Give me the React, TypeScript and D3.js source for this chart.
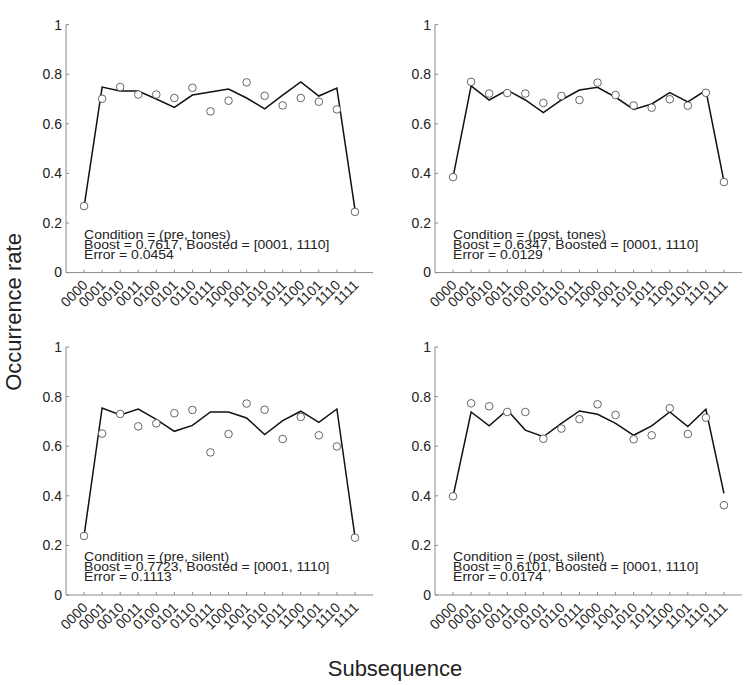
import React from "react";
import * as d3 from "d3";

const categories = ["0000","0001","0010","0011","0100","0101","0110","0111","1000","1001","1010","1011","1100","1101","1110","1111"];
const yTicks = [0, 0.2, 0.4, 0.6, 0.8, 1];
const yTickLabels = ["0", "0.2", "0.4", "0.6", "0.8", "1"];

const preTonesObs = [0.268,0.701,0.748,0.718,0.718,0.704,0.745,0.650,0.693,0.767,0.713,0.674,0.704,0.689,0.658,0.245];
const preTonesFit = [0.265,0.748,0.732,0.732,0.700,0.666,0.716,0.728,0.740,0.704,0.660,0.716,0.769,0.712,0.744,0.255];
const postTonesObs = [0.385,0.769,0.722,0.724,0.722,0.684,0.712,0.696,0.766,0.716,0.674,0.665,0.699,0.673,0.725,0.365];
const postTonesFit = [0.385,0.753,0.696,0.736,0.696,0.645,0.696,0.736,0.747,0.707,0.658,0.680,0.726,0.688,0.735,0.368];
const preSilentObs = [0.238,0.651,0.730,0.680,0.692,0.733,0.746,0.575,0.649,0.772,0.747,0.629,0.718,0.644,0.599,0.231];
const preSilentFit = [0.238,0.754,0.726,0.750,0.708,0.660,0.684,0.738,0.738,0.714,0.647,0.703,0.741,0.696,0.750,0.235];
const postSilentObs = [0.398,0.773,0.761,0.738,0.738,0.630,0.671,0.709,0.769,0.726,0.628,0.644,0.753,0.649,0.715,0.362];
const postSilentFit = [0.398,0.738,0.682,0.746,0.665,0.638,0.692,0.742,0.729,0.692,0.644,0.682,0.738,0.679,0.749,0.410];

const conditions = ["(pre, tones)", "(post, tones)", "(pre, silent)", "(post, silent)"];
const boosts = ["0.7617", "0.6347", "0.7723", "0.6101"];
const errors = ["0.0454", "0.0129", "0.1113", "0.0174"];
const boosted = "[0001, 1110]";

const panels = [
  { obs: preTonesObs, fit: preTonesFit, left: 66, top: 24.6 },
  { obs: postTonesObs, fit: postTonesFit, left: 435, top: 24.6 },
  { obs: preSilentObs, fit: preSilentFit, left: 66, top: 347 },
  { obs: postSilentObs, fit: postSilentFit, left: 435, top: 347 },
];

const W = 307;
const H = 248;
const FONT = "Liberation Sans, Arial, Helvetica, sans-serif";
const AXIS = "#8a8a8a";

function Panel({ p, i }: { p: any; i: number }) {
  const x = d3.scaleLinear().domain([0, 17]).range([0, W]);
  const y = d3.scaleLinear().domain([0, 1]).range([H, 0]);
  const line = d3.line<number>().x((_, k) => x(k + 1)).y((d) => y(d));
  const notes = [
    `Condition = ${conditions[i]}`,
    `Boost = ${boosts[i]}, Boosted = ${boosted}`,
    `Error = ${errors[i]}`,
  ];
  const noteY = [H - 34, H - 24, H - 14];
  return (
    <g transform={`translate(${p.left},${p.top})`}>
      <line x1={0} x2={W} y1={H} y2={H} stroke={AXIS} strokeWidth={1} />
      <line x1={0} x2={0} y1={0} y2={H} stroke={AXIS} strokeWidth={1} />
      {yTicks.map((t, k) => (
        <g key={k}>
          <line x1={0} x2={3} y1={y(t)} y2={y(t)} stroke={AXIS} />
          <text x={-4} y={y(t)} dy="0.35em" textAnchor="end" fontSize={14} fontFamily={FONT} fill="#222">
            {yTickLabels[k]}
          </text>
        </g>
      ))}
      {categories.map((c, k) => (
        <g key={c}>
          <line x1={x(k + 1)} x2={x(k + 1)} y1={H} y2={H - 3} stroke={AXIS} />
          <text
            transform={`translate(${x(k + 1) + 1},${H + 10}) rotate(-45)`}
            dy="0.35em"
            textAnchor="end"
            fontSize={14}
            fontFamily={FONT}
            fill="#222"
          >
            {c}
          </text>
        </g>
      ))}
      <path d={line(p.fit) || ""} fill="none" stroke="#111" strokeWidth={1.5} />
      {p.obs.map((v: number, k: number) => (
        <circle key={k} cx={x(k + 1)} cy={y(v)} r={3.8} fill="white" stroke="#555" strokeWidth={0.9} />
      ))}
      <g fontSize={14} fontFamily={FONT} fill="#222">
        {notes.map((n, k) => (
          <text key={k} transform={`translate(${x(1)},${noteY[k]}) scale(1,0.85)`}>
            {n}
          </text>
        ))}
      </g>
    </g>
  );
}

export default function App() {
  return (
    <svg
      width={750}
      height={685}
      style={{ position: "absolute", left: 0, top: 0, background: "white" }}
    >
      <rect width={750} height={685} fill="white" />
      {panels.map((p, i) => (
        <Panel key={i} p={p} i={i} />
      ))}
      <text
        transform="translate(21,312) rotate(-90)"
        textAnchor="middle"
        fontSize={22}
        fontFamily={FONT}
        fill="#222"
      >
        Occurrence rate
      </text>
      <text x={395} y={676} textAnchor="middle" fontSize={22} fontFamily={FONT} fill="#222">
        Subsequence
      </text>
    </svg>
  );
}
